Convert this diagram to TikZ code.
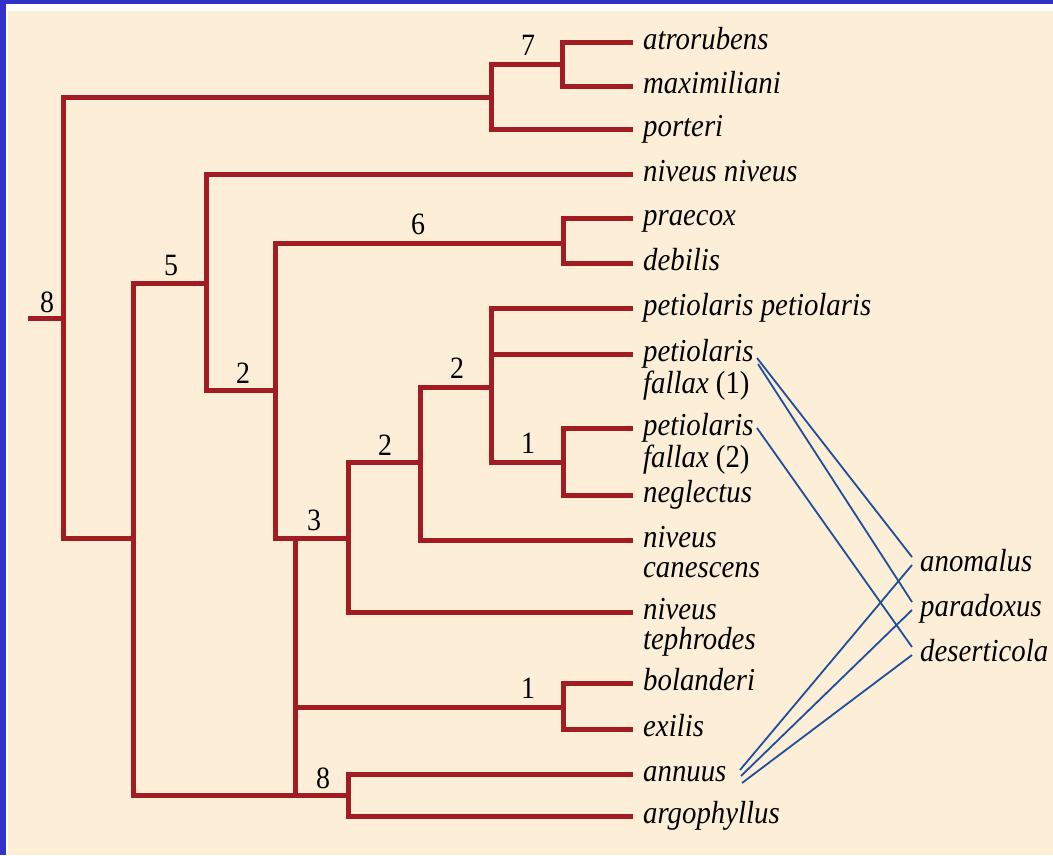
\documentclass[tikz,border=0pt]{standalone}
\usepackage{fontspec}
\setmainfont[FakeStretch=0.9]{Liberation Serif}
\definecolor{bgcream}{HTML}{FDEFD7}
\definecolor{frameblue}{HTML}{3232C8}
\definecolor{treered}{HTML}{A11D23}
\definecolor{linkblue}{HTML}{1F4F9C}
\begin{document}
\begin{tikzpicture}[x=1pt,y=-1pt,
  branch/.style={draw=treered, line width=5pt, line join=miter},
  link/.style={draw=linkblue, line width=1.8pt},
  leaf/.style={anchor=west, inner xsep=10pt, inner ysep=0pt, text height=22pt, text depth=8pt,
    font=\fontsize{32}{34}\selectfont\itshape},
  hyb/.style={anchor=west, inner xsep=8pt, inner ysep=0pt, text height=22pt, text depth=8pt,
    font=\fontsize{32}{34}\selectfont\itshape},
  num/.style={inner sep=0pt, font=\fontsize{31}{34}\selectfont}]
\useasboundingbox (0,0) rectangle (1053,855);
\fill[frameblue] (0,0) rectangle (1053,855);
\fill[white] (6,4) rectangle (1053,855);
\fill[bgcream] (8,11) rectangle (1053,855);

% leaves
\node[leaf] (atro) at (633,42) {atrorubens};
\node[leaf] (maxi) at (633,86) {maximiliani};
\node[leaf] (port) at (633,129) {porteri};
\node[leaf] (nivn) at (633,174) {niveus niveus};
\node[leaf] (prae) at (633,218) {praecox};
\node[leaf] (debi) at (633,263) {debilis};
\node[leaf] (petp) at (633,308) {petiolaris petiolaris};
\node[leaf] (pfa) at (633,354) {\begin{tabular}[t]{@{}l@{}}petiolaris\\[-2pt] fallax \upshape(1)\end{tabular}};
\node[leaf] (pfb) at (633,428) {\begin{tabular}[t]{@{}l@{}}petiolaris\\[-2pt] fallax \upshape(2)\end{tabular}};
\node[leaf] (negl) at (633,495) {neglectus};
\node[leaf] (nivc) at (633,540) {\begin{tabular}[t]{@{}l@{}}niveus\\[-4pt] canescens\end{tabular}};
\node[leaf] (nivt) at (633,612) {\begin{tabular}[t]{@{}l@{}}niveus\\[-4pt] tephrodes\end{tabular}};
\node[leaf] (bola) at (633,683) {bolanderi};
\node[leaf] (exil) at (633,729) {exilis};
\node[leaf] (annu) at (633,774) {annuus};
\node[leaf] (argo) at (633,816) {argophyllus};

% hybrid species
\node[hyb] (anom) at (912,564) {anomalus};
\node[hyb] (para) at (912,609) {paradoxus};
\node[hyb] (dese) at (912,654) {deserticola};

% internal junctions
\coordinate (root) at (28,318);
\coordinate (r) at (63,318);
\coordinate (c7) at (562,64);
\coordinate (cA) at (491,97);
\coordinate (cB) at (133,538);
\coordinate (c5) at (206,283);
\coordinate (c2a) at (275,390);
\coordinate (c6) at (563,243);
\coordinate (c3) at (348,538);
\coordinate (c2b) at (420,462);
\coordinate (c2c) at (491,387);
\coordinate (c1a) at (563,462);
\coordinate (c1b) at (563,707);
\coordinate (c8) at (348,795);

% tree
\draw[branch] (atro.west) -- (562,42) -- (562,86) -- (maxi.west);
\draw[branch] (c7) -- (491,64) -- (491,129) -- (port.west);
\draw[branch] (cA) -- (63,97) -- (63,538) -- (cB);
\draw[branch] (root) -- (r);
\draw[branch] (c5) -- (133,283) -- (133,795) -- (c8);
\draw[branch] (nivn.west) -- (206,174) -- (206,390) -- (c2a);
\draw[branch] (c6) -- (275,243) -- (275,538) -- (c3);
\draw[branch] (prae.west) -- (563,218) -- (563,263) -- (debi.west);
\draw[branch] (c2b) -- (348,462) -- (348,612) -- (nivt.west);
\draw[branch] (295,538) -- (295,795);
\draw[branch] (295,707) -- (c1b);
\draw[branch] (bola.west) -- (563,683) -- (563,729) -- (exil.west);
\draw[branch] (annu.west) -- (348,774) -- (348,816) -- (argo.west);
\draw[branch] (c2c) -- (420,387) -- (420,540) -- (nivc.west);
\draw[branch] (petp.west) -- (491,308) -- (491,462) -- (c1a);
\draw[branch] (491,354) -- (pfa.west);
\draw[branch] (pfb.west) -- (563,428) -- (563,495) -- (negl.west);

% support values
\node[num] (l7) at (528,45) {7};
\node[num] (l8r) at (47,302) {8};
\node[num] (l5) at (171,265) {5};
\node[num] (l2a) at (243,373) {2};
\node[num] (l6) at (418,224) {6};
\node[num] (l2b) at (385,445) {2};
\node[num] (l2c) at (457,368) {2};
\node[num] (l1a) at (528,443) {1};
\node[num] (l3) at (314,520) {3};
\node[num] (l1b) at (528,688) {1};
\node[num] (l8b) at (323,778) {8};

% hybrid links
\coordinate (pfa1) at (757,358);
\coordinate (pfa2) at (758,364);
\coordinate (pfb1) at (757,428);
\coordinate (an1) at (740,770);
\coordinate (an2) at (741,776);
\coordinate (an3) at (742,783);
\coordinate (anomA) at (912,557);
\coordinate (anomB) at (912,565);
\coordinate (paraA) at (912,602);
\coordinate (paraB) at (912,610);
\coordinate (deseA) at (912,647);
\coordinate (deseB) at (912,655);
\draw[link] (pfa1) -- (anomA);
\draw[link] (pfa2) -- (paraA);
\draw[link] (pfb1) -- (deseA);
\draw[link] (an1) -- (anomB);
\draw[link] (an2) -- (paraB);
\draw[link] (an3) -- (deseB);
\end{tikzpicture}
\end{document}
